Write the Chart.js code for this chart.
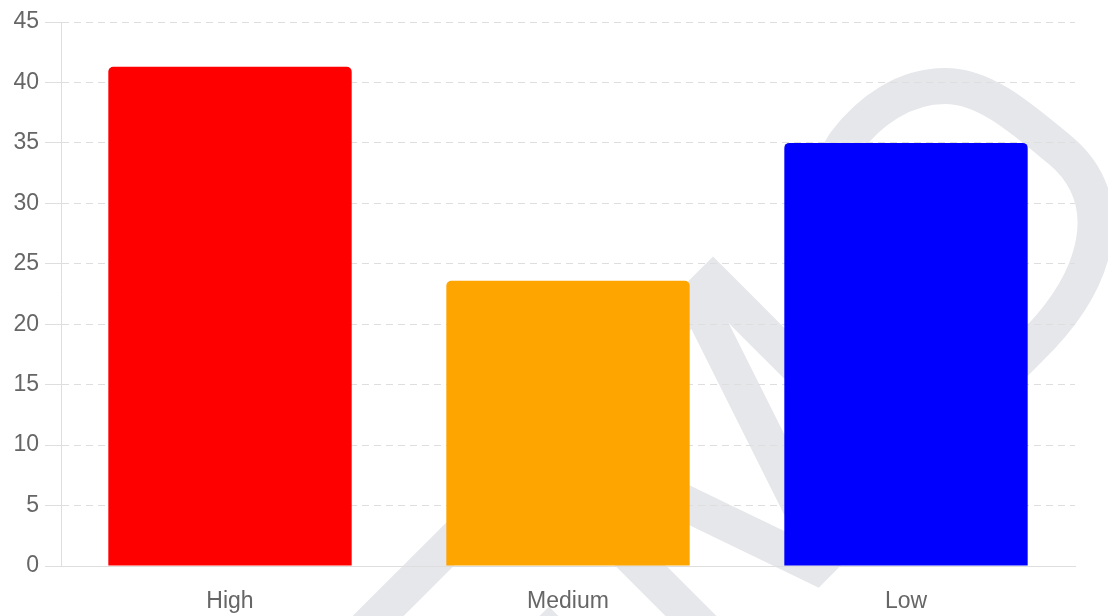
<!DOCTYPE html>
<html>
<head>
<meta charset="utf-8">
<script src="https://cdn.jsdelivr.net/npm/chart.js@4"></script>
<style>
  html, body { margin: 0; padding: 0; background: #fff; }
  .wrap { position: relative; width: 1108px; height: 616px; }
  .wrap svg, .wrap canvas { position: absolute; left: 0; top: 0; }
</style>
</head>
<body>
<div class="wrap">
  <!-- faint logo watermark behind the chart -->
  <svg width="1108" height="616" viewBox="0 0 1108 616">
    <g fill="none" stroke="#e6e7eb" stroke-width="36" stroke-linejoin="miter" stroke-miterlimit="10">
      <path d="M 344 650 L 713 282 L 860 429"/>
      <path d="M 697 300 L 817 540"/>
      <path d="M 600 462 L 815 566 L 1030 348 C 1100 280 1120 200 1060 150 C 1020 117 985 86 945 86 C 905 86 870 110 845 143 L 820 185"/>
      <path d="M 560 485 L 720 645"/>
      <path d="M 500 681 L 549 632 L 598 681"/>
    </g>
  </svg>
  <canvas id="chart" width="1108" height="616"></canvas>
</div>
<script>
const categories = ['High', 'Medium', 'Low'];
const counts = [41.3, 23.6, 35.0];
const barColors = ['#ff0000', '#ffa500', '#0000ff'];
const yTicks = { min: 0, max: 45, step: 5 };

const gridColor = '#dedede';
const labelFont = { size: 23 };

new Chart(document.getElementById('chart'), {
  type: 'bar',
  data: {
    labels: categories,
    datasets: [{
      data: counts,
      backgroundColor: barColors,
      borderRadius: 5,
    }],
  },
  options: {
    responsive: false,
    animation: false,
    layout: { padding: { top: 22, right: 33, left: 14, bottom: 0 } },
    plugins: {
      legend: { display: false },
      tooltip: { enabled: false },
    },
    scales: {
      x: {
        grid: { display: false, drawTicks: false },
        border: { color: gridColor },
        ticks: { color: '#666', font: labelFont, padding: 22 },
        afterFit: s => { s.height = 50; },
      },
      y: {
        min: yTicks.min,
        max: yTicks.max,
        grid: { color: gridColor, tickLength: 16 },
        border: { color: gridColor, dash: [7, 5] },
        ticks: { color: '#666', font: labelFont, stepSize: yTicks.step, padding: 6 },
        afterFit: s => { s.width = 47; },
      },
    },
  },
});
</script>
</body>
</html>
